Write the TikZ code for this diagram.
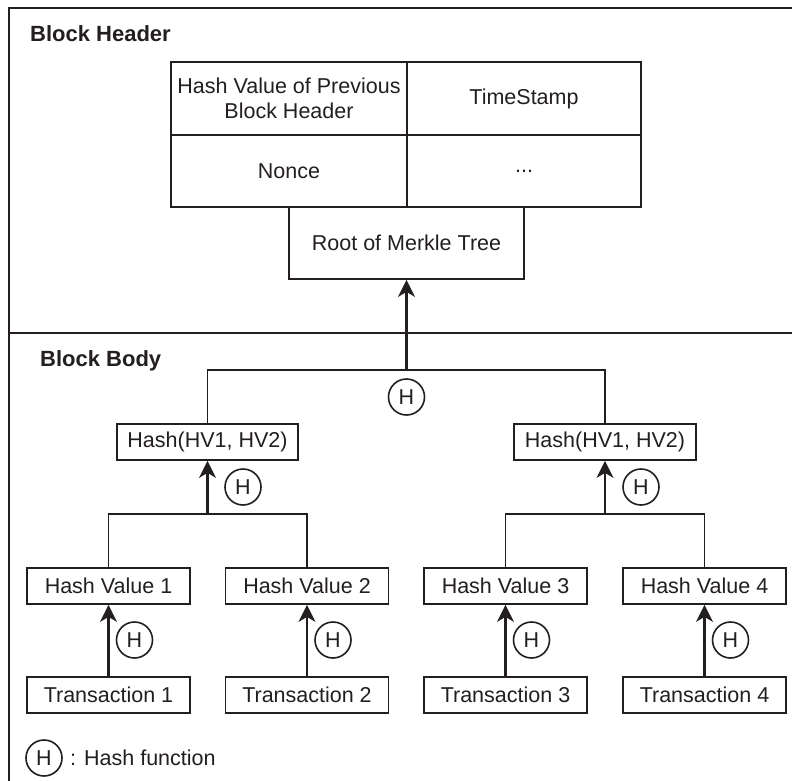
\documentclass[tikz,border=0pt]{standalone}
\usepackage{fontspec}
\setmainfont{Liberation Sans}
\usetikzlibrary{arrows.meta}
\definecolor{ink}{HTML}{231F20}
\tikzset{
  cell/.style={draw=ink, line width=1.8pt, inner sep=0pt, text=ink,
    font=\fontsize{21.5}{25}\selectfont, align=center},
  hashfn/.style={draw=ink, line width=1.6pt, circle, minimum size=36pt,
    inner sep=0pt, text=ink, font=\fontsize{21.5}{25}\selectfont},
  wire/.style={draw=ink, line width=1.7pt},
  flow/.style={draw=ink, line width=2.05pt,
    -{Stealth[length=17pt, width=17pt, inset=5pt]}},
  title/.style={anchor=base west, inner sep=0pt, text=ink,
    font=\fontsize{22}{25}\selectfont\bfseries},
}
\begin{document}
\begin{tikzpicture}[x=1pt, y=-1pt]
\useasboundingbox (0,0) rectangle (792,781);
\clip (0,0) rectangle (792,781);
\fill[white] (0,0) rectangle (792,781);

% outer frame and header/body divider
\draw[wire] (9,8) rectangle (820,820);
\draw[wire] (9,333) -- (820,333);

\node[title] (hdr) at (30,42) {Block Header};
\node[title] (bdy) at (40,366) {Block Body};

% block header fields
\node[cell, minimum width=236pt, minimum height=73pt] (prev) at (289,98.5)
  {Hash Value of Previous\\Block Header};
\node[cell, minimum width=234pt, minimum height=73pt] (ts) at (524,98.5) {TimeStamp};
\node[cell, minimum width=236pt, minimum height=72pt] (nonce) at (289,171) {Nonce};
\node[cell, minimum width=234pt, minimum height=72pt] (etc) at (524,171) {...};
\node[cell, minimum width=235pt, minimum height=72pt] (root) at (406.5,243) {Root of Merkle Tree};

% intermediate hashes
\node[cell, minimum width=181pt, minimum height=36pt] (hl) at (207.5,442) {Hash(HV1, HV2)};
\node[cell, minimum width=182pt, minimum height=36pt] (hr) at (605,442) {Hash(HV1, HV2)};

% leaf hashes and transactions
\foreach \i/\x in {1/108.5, 2/307, 3/505.5, 4/704.5} {
  \node[cell, minimum width=163pt, minimum height=36pt] (hv\i) at (\x,586) {Hash Value \i};
  \node[cell, minimum width=163pt, minimum height=36pt] (tx\i) at (\x,695) {Transaction \i};
  \draw[flow] (tx\i.north) -- (hv\i.south);
  \node[hashfn] (h\i) at ([xshift=26pt]\x,640) {H};
}

% root level join
\coordinate (topjoin) at (406.5,370);
\draw[wire] (hl.north) |- (topjoin) -| (hr.north);
\draw[flow] (topjoin) -- (root.south);
\node[hashfn] (htop) at (406.5,397) {H};

% left pair join
\coordinate (ljoin) at (207.5,514);
\draw[wire] (hv1.north) |- (ljoin) -| (hv2.north);
\draw[flow] (ljoin) -- (hl.south);
\node[hashfn] (hlh) at (243,487) {H};

% right pair join
\coordinate (rjoin) at (605,514);
\draw[wire] (hv3.north) |- (rjoin) -| (hv4.north);
\draw[flow] (rjoin) -- (hr.south);
\node[hashfn] (hrh) at (641,487) {H};

% legend
\node[hashfn] (hleg) at (44,758) {H};
\node[anchor=base west, inner sep=0pt, text=ink, font=\fontsize{21.5}{25}\selectfont]
  (legtext) at (70,765) {: Hash function};
\end{tikzpicture}
\end{document}
